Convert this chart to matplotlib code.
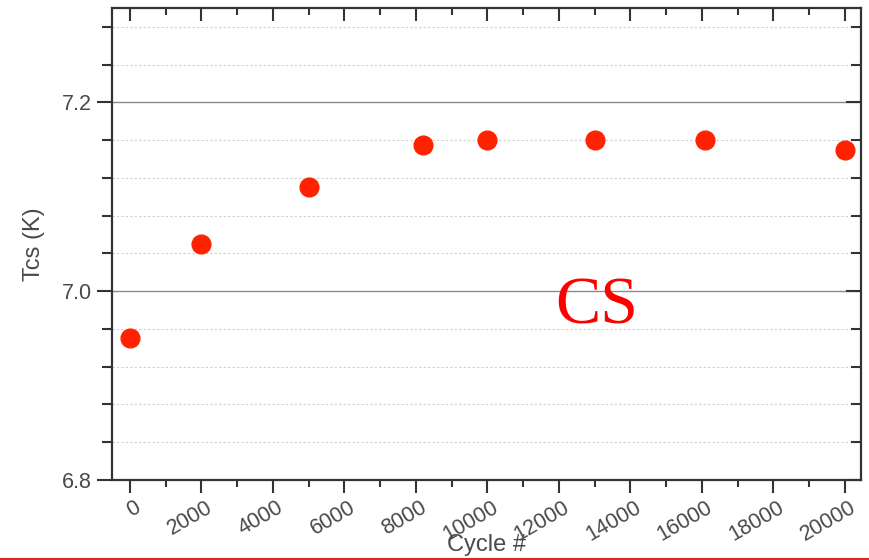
import numpy as np
import matplotlib
matplotlib.use("Agg")
import matplotlib.pyplot as plt
from matplotlib.ticker import MultipleLocator
from matplotlib.lines import Line2D
import matplotlib.transforms as mtransforms

cycles = [0, 2000, 5000, 8200, 10000, 13000, 16100, 20000]
tcs = [6.95, 7.05, 7.11, 7.155, 7.16, 7.16, 7.16, 7.15]
xticks = list(range(0, 20001, 2000))
yticks = [6.8, 7.0, 7.2]

plt.rcParams['font.family'] = ['Liberation Sans', 'DejaVu Sans']
textColor = '#4a4a4a'
spineColor = '#333333'

fig = plt.figure(figsize=(8.69, 5.60), dpi=100)
ax = fig.add_axes([112/869, 1-480/560, (861-112)/869, (480-8)/560])

ax.plot(cycles, tcs, linestyle='none', marker='o', markersize=13.5,
        markerfacecolor='#ff2200', markeredgecolor='#ff2200', zorder=5)

ax.set_xlim(-500, 20450)
ax.set_ylim(6.8, 7.3)
ax.set_xticks(xticks)
ax.set_yticks(yticks)
ax.xaxis.set_minor_locator(MultipleLocator(1000))
ax.yaxis.set_minor_locator(MultipleLocator(0.04))
ax.set_yticklabels([f"{v:.1f}" for v in yticks])

ax.grid(which='major', axis='y', color='#8a8a8a', linewidth=1.0)
ax.grid(which='minor', axis='y', color='#d0d0d0', linewidth=0.8, linestyle=(0, (2, 2)))
ax.set_axisbelow(True)

for s in ax.spines.values():
    s.set_color(spineColor)
    s.set_linewidth(1.6)

ax.tick_params(axis='both', which='both', color=spineColor, width=1.5, labelcolor=textColor, labelsize=15.5)
ax.tick_params(axis='x', which='major', length=9, top=True, direction='out')
ax.tick_params(axis='x', which='minor', length=5, top=True, direction='out')
ax.tick_params(axis='y', which='major', length=11, right=True, direction='out')
ax.tick_params(axis='y', which='minor', length=7, right=True, direction='out')
# top and right ticks point inward
for t in ax.xaxis.get_major_ticks() + ax.xaxis.get_minor_ticks():
    t.tick2line.set_marker(3)
for t in ax.yaxis.get_major_ticks() + ax.yaxis.get_minor_ticks():
    t.tick2line.set_marker(0)

offset = mtransforms.ScaledTranslation(4/100, 0, fig.dpi_scale_trans)
for lbl in ax.get_xticklabels():
    lbl.set_rotation(30)
    lbl.set_ha('right')
    lbl.set_rotation_mode('anchor')
    lbl.set_transform(lbl.get_transform() + offset)

ax.set_ylabel("Tcs (K)", fontsize=17, color=textColor, labelpad=12)
ax.set_xlabel("Cycle #", fontsize=17, color=textColor, va='bottom')
ax.xaxis.set_label_coords(0.5, -(556 - 480) / 472)

ax.text(13050, 6.966, "CS", color='red', fontsize=49, family='Liberation Serif',
        ha='center', va='baseline')

fig.add_artist(Line2D([0, 1], [1.0/560, 1.0/560], transform=fig.transFigure, color='#d42a2a', linewidth=1.5))

fig.savefig("out.png", dpi=100)
